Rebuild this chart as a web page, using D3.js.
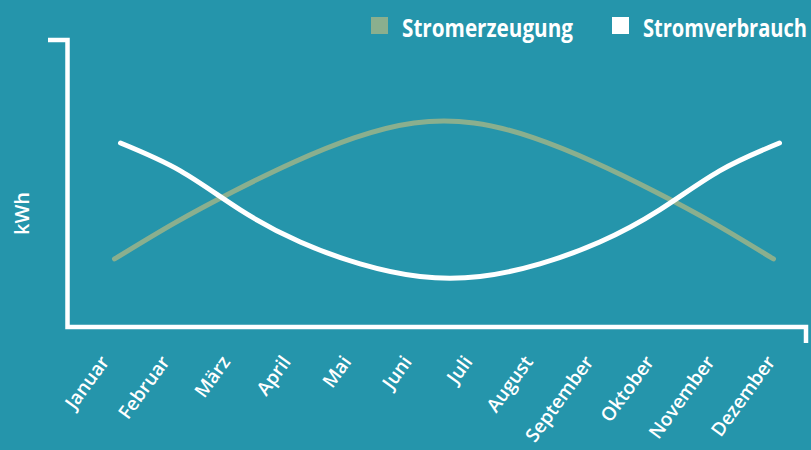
<!DOCTYPE html>
<html>
<head>
<meta charset="utf-8">
<script src="https://cdn.jsdelivr.net/npm/d3@7"></script>
<style>
  html, body { margin: 0; padding: 0; background: #2595AB; }
  svg { display: block; }
</style>
</head>
<body>
<svg id="chart" width="811" height="450"></svg>
<script>
const months = ["Januar", "Februar", "März", "April", "Mai", "Juni", "Juli", "August", "September", "Oktober", "November", "Dezember"];
const seriesNames = ["Stromerzeugung", "Stromverbrauch"];
const erzeugung = [23.7, 36.2, 47.4, 57.5, 65.9, 71.1, 71.1, 65.9, 57.5, 47.4, 36.2, 23.7];
const verbrauch = [64.1, 54.4, 40.8, 29.6, 22.0, 17.6, 17.6, 22.0, 29.6, 40.8, 54.4, 64.1];
const yLabel = "kWh";

const colors = { bg: "#2595AB", gen: "#8AAF8E", use: "#FFFFFF", axis: "#FFFFFF" };
const svg = d3.select("#chart");
svg.append("rect").attr("width", 811).attr("height", 450).attr("fill", colors.bg);

const y = d3.scaleLinear().domain([0, 100]).range([327, 40]);
const xGen = d3.scalePoint().domain(months).range([114.5, 773.5]);
const xUse = d3.scalePoint().domain(months).range([120.5, 779.5]);
const xLab = d3.scalePoint().domain(months).range([112, 778]);

// axes frame
const axisX0 = 67.5, axisX1 = 806;
const [yb, yt] = y.range();
svg.append("path")
  .attr("d", `M48,${yt} H${axisX0} V${yb} H${axisX1} V343`)
  .attr("fill", "none").attr("stroke", colors.axis).attr("stroke-width", 4.5);

// y label
svg.append("text")
  .attr("transform", `translate(29,${(yb + yt) / 2 + 30}) rotate(-90)`)
  .attr("text-anchor", "middle")
  .attr("fill", "#fff")
  .style("font-family", "'Open Sans', sans-serif")
  .style("font-weight", 600)
  .style("font-size", "20px")
  .text(yLabel);

// month labels
svg.append("g").selectAll("text").data(months).join("text")
  .attr("transform", d => `translate(${xLab(d) - 2},362) rotate(-54)`)
  .attr("text-anchor", "end")
  .attr("fill", "#fff")
  .style("font-family", "'Open Sans', sans-serif")
  .style("font-weight", 600)
  .style("font-size", "19px")
  .text(d => d);

// lines
const genLine = d3.line().x((d, i) => xGen(months[i])).y(d => y(d)).curve(d3.curveNatural);
const useLine = d3.line().x((d, i) => xUse(months[i])).y(d => y(d)).curve(d3.curveNatural);

svg.append("path").attr("d", genLine(erzeugung))
  .attr("fill", "none").attr("stroke", colors.gen).attr("stroke-width", 5).attr("stroke-linecap", "round");
svg.append("path").attr("d", useLine(verbrauch))
  .attr("fill", "none").attr("stroke", colors.use).attr("stroke-width", 5).attr("stroke-linecap", "round");

// legend
const legend = svg.append("g");
const legItems = [
  { name: seriesNames[0], color: colors.gen, x: 371, w: 171 },
  { name: seriesNames[1], color: colors.use, x: 612, w: 164 }
];
legItems.forEach(it => {
  legend.append("rect").attr("x", it.x).attr("y", 17).attr("width", 17).attr("height", 17).attr("fill", it.color);
  legend.append("text")
    .attr("x", it.x + 31).attr("y", 37)
    .attr("fill", "#fff")
    .attr("textLength", it.w)
    .attr("lengthAdjust", "spacingAndGlyphs")
    .style("font-family", "'Open Sans', sans-serif")
    .style("font-weight", 700)
    .style("font-size", "25px")
    .text(it.name);
});
</script>
</body>
</html>
